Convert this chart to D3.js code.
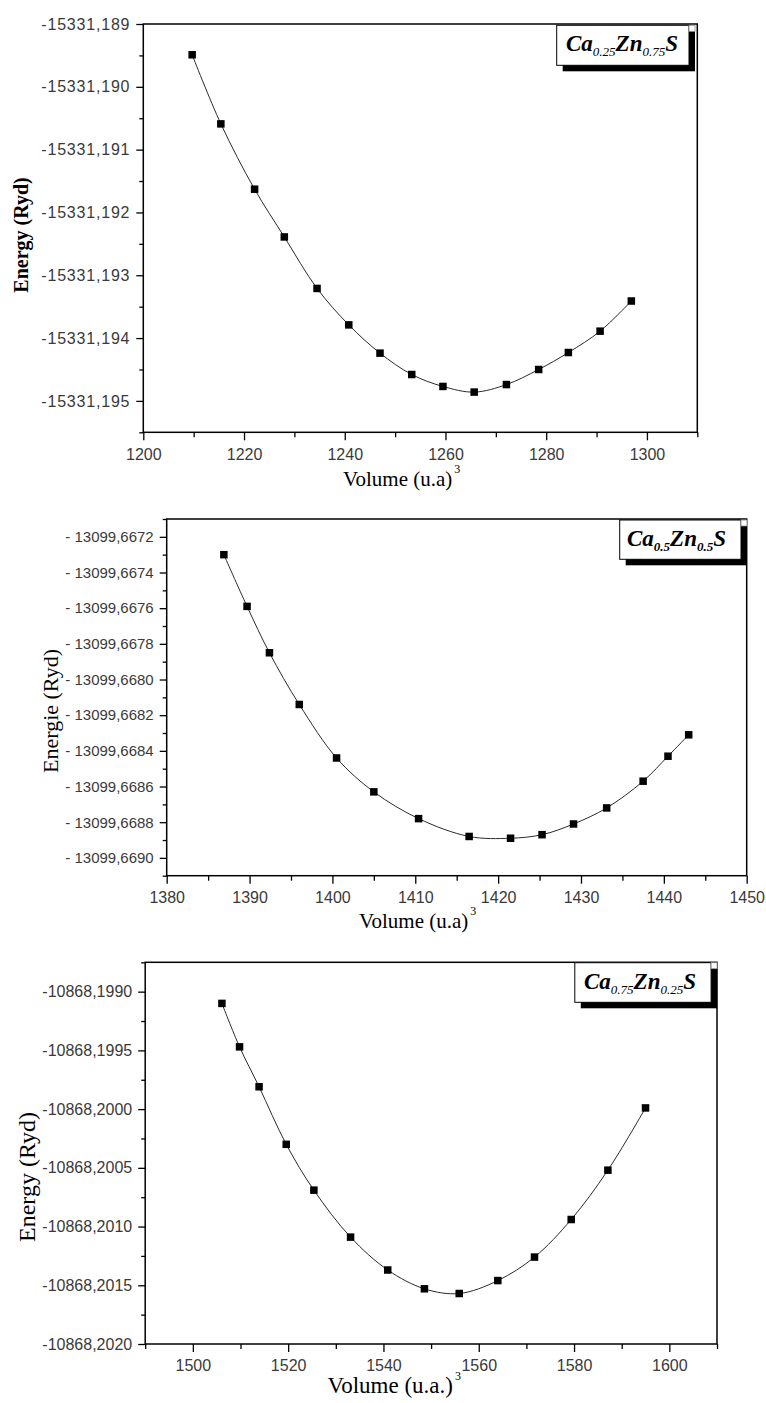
<!DOCTYPE html>
<html>
<head>
<meta charset="utf-8">
<script src="https://cdn.jsdelivr.net/npm/d3@7"></script>
<style>
  html, body { margin: 0; padding: 0; background: #fff; }
  svg { display: block; }
</style>
</head>
<body>
<svg id="chart" width="766" height="1403"></svg>
<script>
// ---- Ca0.25Zn0.75S : energy vs. volume ----
const vol1 = [1209.7, 1215.4, 1222.1, 1228.0, 1234.5, 1240.8, 1247.0, 1253.3, 1259.5, 1265.7, 1272.1, 1278.5, 1284.4, 1290.7, 1296.9];
const en1  = [-15331.18949, -15331.19059, -15331.19163, -15331.19239, -15331.19321, -15331.19379, -15331.19424, -15331.19458, -15331.19477, -15331.19486, -15331.19474, -15331.19450, -15331.19423, -15331.19389, -15331.19341];
const xDomain1 = [1200, 1310];
const yDomain1 = [-15331.1955, -15331.189];
const xTicks1 = [1200, 1220, 1240, 1260, 1280, 1300];
const yTicks1 = [-15331.189, -15331.190, -15331.191, -15331.192, -15331.193, -15331.194, -15331.195];

// ---- Ca0.5Zn0.5S ----
const vol2 = [1386.9, 1389.7, 1392.4, 1396.0, 1400.5, 1405.0, 1410.4, 1416.5, 1421.5, 1425.3, 1429.1, 1433.1, 1437.5, 1440.5, 1443.0];
const en2  = [-13099.66730, -13099.66759, -13099.66785, -13099.66814, -13099.66844, -13099.66863, -13099.66878, -13099.66888, -13099.66889, -13099.66887, -13099.66881, -13099.66872, -13099.66857, -13099.66843, -13099.66831];
const xDomain2 = [1380, 1450];
const yDomain2 = [-13099.6691, -13099.6671];
const xTicks2 = [1380, 1390, 1400, 1410, 1420, 1430, 1440, 1450];
const yTicks2 = [-13099.6672, -13099.6674, -13099.6676, -13099.6678, -13099.6680, -13099.6682, -13099.6684, -13099.6686, -13099.6688, -13099.6690];

// ---- Ca0.75Zn0.25S ----
const vol3 = [1506.1, 1509.8, 1513.9, 1519.6, 1525.4, 1533.1, 1540.9, 1548.6, 1555.9, 1564.0, 1571.7, 1579.4, 1587.1, 1595.0];
const en3  = [-10868.19910, -10868.19947, -10868.19981, -10868.20030, -10868.20069, -10868.20109, -10868.20137, -10868.20153, -10868.20157, -10868.20146, -10868.20126, -10868.20094, -10868.20052, -10868.19999];
const xDomain3 = [1490, 1610];
const yDomain3 = [-10868.2020, -10868.19875];
const xTicks3 = [1500, 1520, 1540, 1560, 1580, 1600];
const yTicks3 = [-10868.1990, -10868.1995, -10868.2000, -10868.2005, -10868.2010, -10868.2015, -10868.2020];

const SANS = "'Liberation Sans', Arial, sans-serif";
const SERIF = "'Liberation Serif', 'Times New Roman', serif";

const svg = d3.select("#chart");

// minor ticks sit halfway between labelled ticks, extended to the frame edges
function minorTicks(major, domain) {
  const step = major[1] - major[0];
  const lo = Math.min(domain[0], domain[1]), hi = Math.max(domain[0], domain[1]);
  const out = [];
  const start = major[0] - step * 4;
  for (let i = 0; i < major.length + 8; i++) {
    const v = start + (i + 0.5) * step;
    if (v >= lo - 1e-9 && v <= hi + 1e-9) out.push(v);
  }
  return out;
}

function drawPanel(cfg) {
  const g = svg.append("g");
  const x = d3.scaleLinear().domain(cfg.xDomain).range([cfg.left, cfg.right]);
  const y = d3.scaleLinear().domain(cfg.yDomain).range([cfg.bottom, cfg.top]);

  // minor ticks
  g.append("g").attr("transform", `translate(0,${cfg.bottom})`)
    .call(d3.axisBottom(x).tickValues(minorTicks(cfg.xTicks, cfg.xDomain)).tickSize(5).tickFormat(""))
    .call(a => a.select(".domain").remove());
  g.append("g").attr("transform", `translate(${cfg.left},0)`)
    .call(d3.axisLeft(y).tickValues(minorTicks(cfg.yTicks, cfg.yDomain)).tickSize(4).tickFormat(""))
    .call(a => a.select(".domain").remove());

  // major ticks with labels
  const xa = g.append("g").attr("transform", `translate(0,${cfg.bottom})`)
    .call(d3.axisBottom(x).tickValues(cfg.xTicks).tickSize(8).tickPadding(8).tickFormat(d3.format("d")));
  xa.select(".domain").remove();
  xa.selectAll("text").attr("font-family", SANS).attr("font-size", 16).attr("fill", "#3a3a3a");

  const ya = g.append("g").attr("transform", `translate(${cfg.left},0)`)
    .call(d3.axisLeft(y).tickValues(cfg.yTicks).tickSize(7).tickPadding(6)
      .tickFormat(v => cfg.yPrefix + Math.abs(v).toFixed(cfg.yDigits).replace(".", ",")));
  ya.select(".domain").remove();
  ya.selectAll("text").attr("font-family", SANS).attr("font-size", cfg.yFont).attr("fill", "#3a3a3a")
    .attr("letter-spacing", cfg.ySpacing);

  g.selectAll(".tick line").attr("stroke", "#000").attr("stroke-width", 1.3);

  // frame
  g.append("rect").attr("x", cfg.left).attr("y", cfg.top)
    .attr("width", cfg.right - cfg.left).attr("height", cfg.bottom - cfg.top)
    .attr("fill", "none").attr("stroke", "#000").attr("stroke-width", 1.5);

  // fitted curve and computed points
  const pts = cfg.vol.map((v, i) => [v, cfg.en[i]]);
  g.append("path").datum(pts)
    .attr("d", d3.line().x(d => x(d[0])).y(d => y(d[1])).curve(d3.curveCatmullRom.alpha(0.5)))
    .attr("fill", "none").attr("stroke", "#2a2a2a").attr("stroke-width", 1);
  const s = 7.5;
  g.selectAll("rect.pt").data(pts).join("rect").attr("class", "pt")
    .attr("x", d => x(d[0]) - s / 2).attr("y", d => y(d[1]) - s / 2)
    .attr("width", s).attr("height", s).attr("fill", "#000");

  // composition label with drop shadow
  const b = cfg.box;
  g.append("rect").attr("x", b.x + 6).attr("y", b.y + 6).attr("width", b.w).attr("height", b.h).attr("fill", "#000");
  g.append("rect").attr("x", b.x).attr("y", b.y).attr("width", b.w).attr("height", b.h)
    .attr("fill", "#fff").attr("stroke", "#000").attr("stroke-width", 1);
  g.append("rect").attr("x", b.x + b.w).attr("y", b.y).attr("width", 6).attr("height", 6)
    .attr("fill", "#fff").attr("stroke", "#888").attr("stroke-width", 0.8);
  const t = g.append("text").attr("x", b.tx).attr("y", b.ty)
    .attr("font-family", SERIF).attr("font-style", "italic").attr("font-weight", "bold")
    .attr("font-size", 23).attr("fill", "#000");
  cfg.formula.forEach(part => {
    if (part.sub) {
      t.append("tspan").text(part.sub).attr("font-size", 13).attr("dy", 5)
        .attr("font-weight", cfg.subBold ? "bold" : "normal");
    } else {
      t.append("tspan").text(part.t).attr("dy", part.after ? -5 : 0);
    }
  });

  // axis titles
  const xl = g.append("text").attr("x", cfg.xLabel.x).attr("y", cfg.xLabel.y)
    .attr("font-family", SERIF).attr("font-size", cfg.xLabel.size).attr("fill", "#000");
  xl.append("tspan").text(cfg.xLabel.text);
  xl.append("tspan").text("3").attr("font-size", 12).attr("dy", -13).attr("dx", 2);

  g.append("text")
    .attr("transform", `translate(${cfg.yLabel.x},${cfg.yLabel.y}) rotate(-90)`)
    .attr("text-anchor", "middle").attr("dy", "0.35em")
    .attr("font-family", SERIF).attr("font-size", cfg.yLabel.size)
    .attr("font-weight", cfg.yLabel.bold ? "bold" : "normal").attr("fill", "#000")
    .text(cfg.yLabel.text);
}

drawPanel({
  vol: vol1, en: en1, xDomain: xDomain1, yDomain: yDomain1, xTicks: xTicks1, yTicks: yTicks1,
  left: 143.3, right: 697.3, top: 24, bottom: 432.3,
  yDigits: 3, yPrefix: "-", yFont: 16, ySpacing: 0.8,
  box: { x: 556.7, y: 25.3, w: 132.3, h: 40, tx: 566, ty: 51 },
  formula: [{ t: "Ca" }, { sub: "0.25" }, { t: "Zn", after: true }, { sub: "0.75" }, { t: "S", after: true }],
  subBold: false,
  xLabel: { text: "Volume (u.a)", x: 343, y: 486, size: 21 },
  yLabel: { text: "Energy (Ryd)", x: 20.5, y: 235, size: 20, bold: true }
});

drawPanel({
  vol: vol2, en: en2, xDomain: xDomain2, yDomain: yDomain2, xTicks: xTicks2, yTicks: yTicks2,
  left: 166.7, right: 746.7, top: 519, bottom: 875.7,
  yDigits: 4, yPrefix: "- ", yFont: 15, ySpacing: 0,
  box: { x: 619.7, y: 520, w: 121.3, h: 39.3, tx: 627, ty: 546 },
  formula: [{ t: "Ca" }, { sub: "0.5" }, { t: "Zn", after: true }, { sub: "0.5" }, { t: "S", after: true }],
  subBold: true,
  xLabel: { text: "Volume (u.a)", x: 359, y: 928, size: 21 },
  yLabel: { text: "Energie (Ryd)", x: 50.3, y: 711, size: 22, bold: false }
});

drawPanel({
  vol: vol3, en: en3, xDomain: xDomain3, yDomain: yDomain3, xTicks: xTicks3, yTicks: yTicks3,
  left: 145.2, right: 717, top: 962.3, bottom: 1344,
  yDigits: 4, yPrefix: "-", yFont: 16, ySpacing: 0,
  box: { x: 574.8, y: 962.7, w: 136.3, h: 39.6, tx: 584, ty: 989 },
  formula: [{ t: "Ca" }, { sub: "0.75" }, { t: "Zn", after: true }, { sub: "0.25" }, { t: "S", after: true }],
  subBold: false,
  xLabel: { text: "Volume (u.a.)", x: 327.5, y: 1393, size: 23 },
  yLabel: { text: "Energy (Ryd)", x: 27, y: 1177, size: 24, bold: false }
});
</script>
</body>
</html>
